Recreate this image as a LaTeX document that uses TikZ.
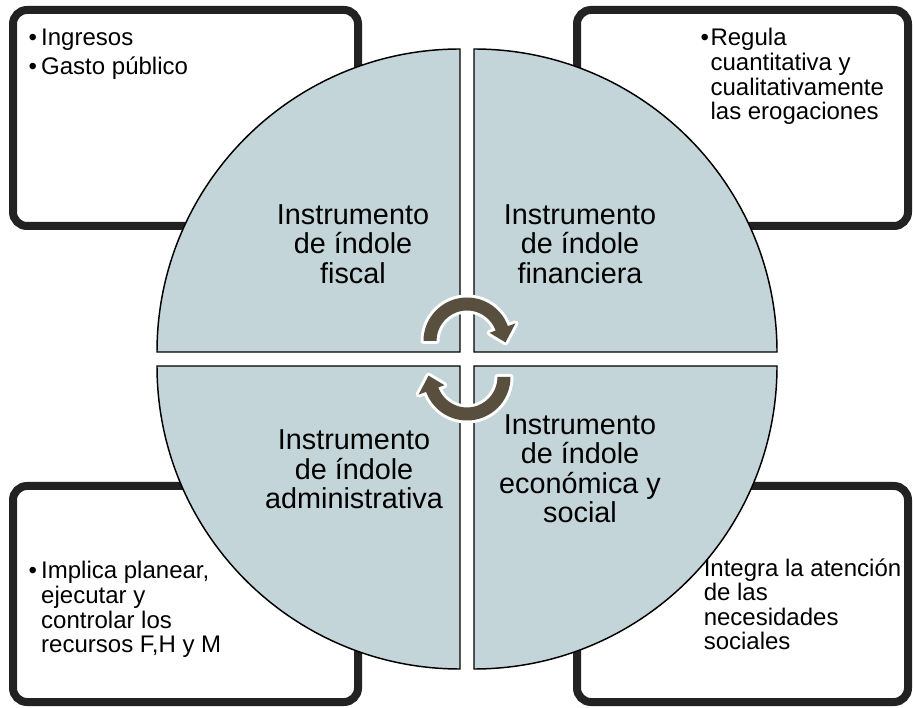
\documentclass[tikz,border=0pt]{standalone}
\usepackage{fontspec}
\setmainfont{Liberation Sans}
\definecolor{secfill}{HTML}{C3D5D9}
\definecolor{boxline}{HTML}{222222}
\definecolor{arrowbrown}{HTML}{594F3E}
\begin{document}
\begin{tikzpicture}[x=0.75pt,y=0.75pt,
  sidebox/.style={draw=boxline, line width=6pt, rounded corners=10.5pt, fill=white},
  sector/.style={fill=secfill, draw=black, line width=1.1pt, line join=miter},
  quadtext/.style={align=center, font=\fontsize{21.6}{22.1}\selectfont, inner sep=0pt},
  sidetext/.style={font=\fontsize{18}{18}\selectfont, inner sep=0pt, anchor=north west},
  cyclearrow/.style={fill=arrowbrown, preaction={draw=white, line width=4.5pt, line join=round}}]
\useasboundingbox (0,0) rectangle (913,707);
% side boxes
\draw[sidebox] (13,481) rectangle (358,697);
\draw[sidebox] (577,481) rectangle (908,697);
\draw[sidebox] (13,5) rectangle (358,221);
\draw[sidebox] (577,5) rectangle (908,221);
% side texts
\node[sidetext] (tltext) at (28.3,678.8) {\begin{tabular}{@{}l@{\hspace{3.2pt}}l@{}}\textbullet & Ingresos\\[3pt] \textbullet & Gasto público\end{tabular}};
\node[sidetext] (trtext) at (700.3,678.8) {\begin{tabular}{@{}l@{\hspace{1.2pt}}l@{}}\textbullet & Regula\\ & cuantitativa y\\ & cualitativamente\\ & las erogaciones\end{tabular}};
\node[sidetext] (bltext) at (28.3,145.8) {\begin{tabular}{@{}l@{\hspace{3.2pt}}l@{}}\textbullet & Implica planear,\\ & ejecutar y\\ & controlar los\\ & recursos F,H y M\end{tabular}};
% circle sectors
\draw[sector] (460,355) -- (157,355) arc[start angle=180, end angle=90, radius=303] -- cycle;
\draw[sector] (474,355) -- (777,355) arc[start angle=0, end angle=90, radius=303] -- cycle;
\draw[sector] (460,341) -- (157,341) arc[start angle=180, end angle=270, radius=303] -- cycle;
\draw[sector] (474,341) -- (777,341) arc[start angle=0, end angle=-90, radius=303] -- cycle;
\node[sidetext] (brtext) at (703.5,148.8) {\begin{tabular}{@{}l@{}}Integra la atención\\ de las\\ necesidades\\ sociales\end{tabular}};
% quadrant labels
\node[quadtext] (fiscal) at (353,463) {Instrumento\\de índole\\fiscal};
\node[quadtext] (financiera) at (580,463) {Instrumento\\de índole\\financiera};
\node[quadtext] (admin) at (354,237.5) {Instrumento\\de índole\\administrativa};
\node[quadtext] (econ) at (580,238.5) {Instrumento\\de índole\\económica y\\social};
% cycle arrows
\begin{scope}[shift={(467,366)}]
\fill[cyclearrow] (180:43.5) arc[start angle=180, end angle=20, radius=43.5] -- (20:51.5) -- (-2:38.5) -- (20:24) -- (20:30.5) arc[start angle=20, end angle=180, radius=30.5] -- cycle;
\end{scope}
\begin{scope}[shift={(467,330)}, rotate=180]
\fill[cyclearrow] (180:43.5) arc[start angle=180, end angle=20, radius=43.5] -- (20:51.5) -- (-2:38.5) -- (20:24) -- (20:30.5) arc[start angle=20, end angle=180, radius=30.5] -- cycle;
\end{scope}
\end{tikzpicture}
\end{document}
